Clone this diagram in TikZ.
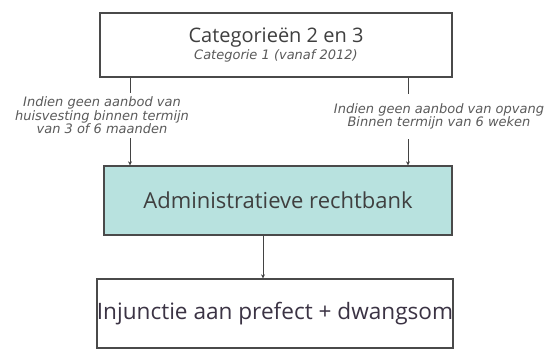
\documentclass[tikz,border=0pt]{standalone}
\usepackage{fontspec}
\setmainfont{Open Sans}
\newfontfamily\notefont{DejaVu Sans}
\usetikzlibrary{arrows.meta}
\definecolor{boxline}{HTML}{4A4A4A}
\definecolor{tealfill}{HTML}{B8E2DF}
\definecolor{titlegray}{HTML}{3F3F3F}
\definecolor{notegray}{HTML}{5A5A5A}
\definecolor{injcol}{HTML}{3B3344}
\tikzset{
  box/.style={draw=boxline, line width=1.3pt, rectangle, inner sep=0pt, align=center},
  note/.style={font=\notefont\itshape\fontsize{13}{13.5}\selectfont, text=notegray, align=center, inner sep=0pt},
  conn/.style={draw=boxline!90!black, line width=0.9pt},
  arr/.style={conn, -{Stealth[length=4pt,width=4pt]}}
}
\begin{document}
\begin{tikzpicture}[x=1pt,y=-1pt]
\useasboundingbox (0,0) rectangle (552,349);
\node[box, minimum width=352pt, minimum height=64pt, fill=white] (top) at (276,45)
  {\fontsize{20}{22}\selectfont\color{titlegray}Categorieën 2 en 3\\[1pt]
   {\notefont\itshape\fontsize{13}{14}\selectfont\color{notegray}Categorie 1 (vanaf 2012)}};
\node[box, minimum width=348pt, minimum height=69pt, fill=tealfill] (mid) at (278,200.5)
  {\fontsize{22}{24}\selectfont\color{titlegray}Administratieve rechtbank};
\node[box, minimum width=354pt, minimum height=69pt, fill=white] (bot) at (275,313.5)
  {\fontsize{22.6}{24}\selectfont\color{injcol}Injunctie aan prefect + dwangsom};
\node[note, minimum height=45pt] (lblL) at (102,115.5)
  {Indien geen aanbod van\\huisvesting binnen termijn\\van 3 of 6 maanden};
\node[note, minimum height=45pt] (lblR) at (439,116.5)
  {Indien geen aanbod van opvang\\Binnen termijn van 6 weken};
\coordinate (lx) at (130,0);
\coordinate (rx) at (408,0);
\coordinate (mx) at (263,0);
\draw[conn] (top.south -| lx) -- (lblL.north -| lx);
\draw[arr] (lblL.south -| lx) -- (mid.north -| lx);
\draw[conn] (top.south -| rx) -- (lblR.north -| rx);
\draw[arr] (lblR.south -| rx) -- (mid.north -| rx);
\draw[arr] (mid.south -| mx) -- (bot.north -| mx);
\end{tikzpicture}
\end{document}
